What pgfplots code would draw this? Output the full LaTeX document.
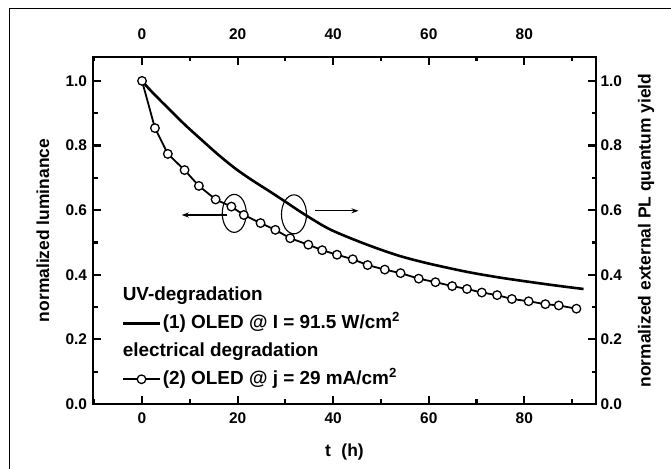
\documentclass[border=0pt]{standalone}
\usepackage{fontspec}
\setmainfont{Liberation Sans}
\usepackage{pgfplots}
\pgfplotsset{compat=1.18}
\usetikzlibrary{arrows.meta}

\pgfplotsset{
  oledax/.style={
    at={(93bp,65bp)}, anchor=south west,
    scale only axis, width=503bp, height=347bp,
    xmin=-10.26, xmax=95, ymin=0, ymax=1.074,
    xtick={0,20,40,60,80}, minor xtick={-10,10,30,50,70,90},
    ytick={0,0.2,0.4,0.6,0.8,1.0}, minor ytick={0.1,0.3,0.5,0.7,0.9},
    tick align=inside,
    axis line style={line width=2.6bp},
    major tick length=8bp, minor tick length=4.5bp,
    tick style={line width=2.2bp, black},
    /pgf/number format/assume math mode=true,
    tick label style={font=\fontsize{15.5}{18}\selectfont\bfseries},
    yticklabel style={/pgf/number format/fixed, /pgf/number format/fixed zerofill,
      /pgf/number format/precision=1},
    label style={font=\fontsize{17.5}{20}\selectfont\bfseries},
  }
}

\begin{document}
\begin{tikzpicture}
\path[use as bounding box] (0,0) rectangle (671bp,469bp);
\draw[line width=1.6bp] (9.3bp,0) -- (9.3bp,460.5bp) -- (671bp,460.5bp);

% top / right tick labels and right label
\begin{axis}[oledax,
    xticklabel pos=upper, yticklabel pos=upper,
    xticklabel style={yshift=14bp},
    yticklabel style={xshift=1bp},
    ylabel={normalized external PL quantum yield},
    ylabel style={at={(axis description cs:1.0994,0.5)}, anchor=center, rotate=0},
]
  \addplot[draw=none] coordinates {(0,0)};
\end{axis}

\begin{axis}[oledax,
    xticklabel style={yshift=-5bp},
    yticklabel style={xshift=-2.5bp},
    xlabel={t\hspace{0.6em}(h)},
    ylabel={normalized luminance},
    xlabel style={at={(axis description cs:0.5,-0.1375)}, anchor=center},
    ylabel style={at={(axis description cs:-0.0994,0.5)}, anchor=center},
    legend style={at={(axis description cs:0.0567,0.3406)}, anchor=north west,
      draw=none, fill=none, inner sep=0pt, row sep=9.5bp, column sep=0pt,
      font=\fontsize{19}{22}\selectfont\bfseries,
      nodes={inner xsep=1.5bp, inner ysep=0bp, text height=14bp, text depth=4.5bp}},
    legend cell align=left,
    legend image code/.code={\draw[mark repeat=2,mark phase=2,#1]
      plot coordinates {(0bp,0bp)(18.5bp,0bp)(37bp,0bp)};},
]
  \addlegendimage{empty legend}
  \addlegendentry{\hspace*{-40bp}UV-degradation}

  % (1) UV degradation, external PL quantum yield
  \addplot[black, line width=2.6bp, smooth, tension=0.5] coordinates {
    (0,1.0)(1.5,0.975)(3.4,0.946)(5.5,0.915)(9,0.864)(12.5,0.817)
    (16,0.771)(19.5,0.729)(23,0.693)(26.5,0.660)(29.6,0.630)(34.1,0.586)
    (39.4,0.540)(46.4,0.497)(53.3,0.461)(59.6,0.436)(68,0.409)
    (75,0.391)(82,0.376)(88,0.364)(92.4,0.356)
  };
  \addlegendentry{(1) OLED @ I = 91.5 W/cm\textsuperscript{2}}

  \addlegendimage{empty legend}
  \addlegendentry{\hspace*{-40bp}electrical degradation}

  % (2) electrical degradation, luminance
  \addplot[black, line width=1.8bp, mark=*, mark size=4.3bp,
    mark options={fill=white, draw=black, line width=1.3bp}] coordinates {
    (0,1.0)(2.7,0.854)(5.4,0.774)(8.9,0.724)(11.9,0.675)(15.4,0.633)
    (18.7,0.611)(21.3,0.585)(24.8,0.560)(27.9,0.539)(31.0,0.513)
    (34.8,0.493)(37.7,0.476)(40.8,0.462)(44.1,0.448)(47.2,0.430)
    (50.8,0.416)(54.1,0.405)(57.9,0.388)(61.4,0.377)(64.9,0.365)
    (68.0,0.356)(71.1,0.345)(74.3,0.337)(77.4,0.325)(80.9,0.318)
    (84.4,0.309)(87.2,0.305)(90.9,0.295)
  };
  \addlegendentry{(2) OLED @ j = 29 mA/cm\textsuperscript{2}}

  % markers of which axis each curve belongs to
  \draw[line width=1.1bp] (axis cs:19.3,0.59) ellipse [x radius=12bp, y radius=19bp];
  \draw[line width=1.1bp] (axis cs:31.8,0.587) ellipse [x radius=12.5bp, y radius=19.5bp];
  \draw[line width=1.1bp, -{Stealth[length=7bp,width=5bp]}] (axis cs:17.7,0.585) -- (axis cs:8.3,0.585);
  \draw[line width=1.1bp, -{Stealth[length=7bp,width=5bp]}] (axis cs:36.3,0.598) -- (axis cs:45.3,0.598);
\end{axis}
\end{tikzpicture}
\end{document}
